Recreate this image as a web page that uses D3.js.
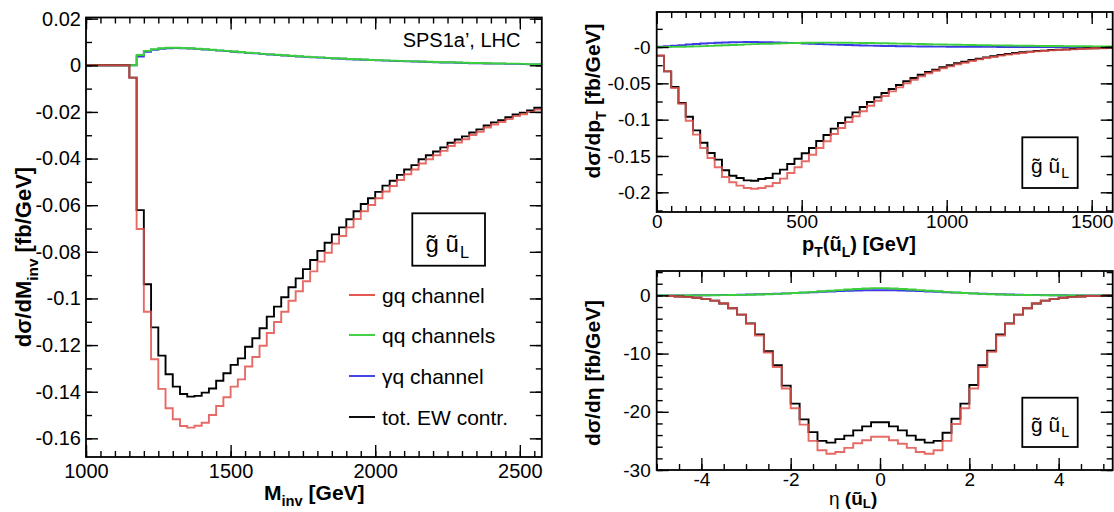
<!DOCTYPE html>
<html><head><meta charset="utf-8">
<script src="https://cdn.jsdelivr.net/npm/d3@7"></script>
<style>
body{margin:0;background:#fff}
svg{display:block}
text{font-family:"Liberation Sans",Arial,Helvetica,sans-serif}
</style>
</head><body>
<svg id="c" width="1114" height="512"></svg>
<script>
// ---------------- DATA ----------------
// Left panel: d sigma / d M_inv, bins of 25 GeV starting at 1000 GeV
const mInvBinStart = 1000, mInvBinWidth = 25;
const mInvTot = [0,0,0,0,0,0,
 -0.0053,-0.0621,-0.0939,-0.1124,-0.1245,-0.1325,-0.1378,-0.1410,-0.1421,-0.1418,
 -0.1404,-0.1386,-0.1353,-0.1321,-0.1285,-0.1257,-0.1207,-0.1171,-0.1128,-0.1078,
 -0.1035,-0.0995,-0.0952,-0.0914,-0.0874,-0.0835,-0.0796,-0.0761,-0.0725,-0.0695,
 -0.0660,-0.0626,-0.0595,-0.0570,-0.0543,-0.0516,-0.0495,-0.0470,-0.0447,-0.0428,
 -0.0403,-0.0386,-0.0370,-0.0352,-0.0332,-0.0318,-0.0305,-0.0288,-0.0275,-0.0258,
 -0.0245,-0.0235,-0.0223,-0.0211,-0.0203,-0.0194,-0.0182];
const mInvGq = [0,0,0,0,0,0,
 -0.0053,-0.0702,-0.1057,-0.1261,-0.1388,-0.1471,-0.1518,-0.1547,-0.1554,-0.1546,
 -0.1533,-0.1500,-0.1461,-0.1424,-0.1378,-0.1347,-0.1292,-0.1251,-0.1203,-0.1148,
 -0.1101,-0.1057,-0.1010,-0.0969,-0.0926,-0.0884,-0.0842,-0.0804,-0.0765,-0.0732,
 -0.0695,-0.0659,-0.0626,-0.0599,-0.0570,-0.0541,-0.0518,-0.0492,-0.0467,-0.0447,
 -0.0421,-0.0403,-0.0386,-0.0367,-0.0346,-0.0331,-0.0317,-0.0299,-0.0285,-0.0267,
 -0.0254,-0.0243,-0.0231,-0.0218,-0.0210,-0.0200,-0.0190];
const mInvQq = [0,0,0,0,0,0,0,
 0.0044,0.0062,0.0069,0.0073,0.0075,0.0075,0.0074,0.0073,0.0071,0.0069,
 0.0067,0.0064,0.0062,0.0059,0.0057,0.0054,0.0052,0.0049,0.0047,0.0045,
 0.0043,0.0041,0.0039,0.0037,0.0035,0.0034,0.0032,0.0030,0.0029,0.0027,
 0.0026,0.0025,0.0023,0.0022,0.0021,0.0020,0.0019,0.0018,0.0017,0.0016,
 0.0015,0.0014,0.0013,0.0013,0.0012,0.0011,0.0010,0.0010,0.0009,0.0008,
 0.0008,0.0007,0.0007,0.0006,0.0005,0.0005];
const mInvGamma = [0,0,0,0,0,0,0,
 0.0038,0.0058,0.0067,0.0071,0.0073,0.0074,0.0073,0.0072,0.0070,0.0068,
 0.0066,0.0063,0.0061,0.0058,0.0056,0.0053,0.0051,0.0048,0.0046,0.0044,
 0.0042,0.0040,0.0038,0.0036,0.0034,0.0033,0.0031,0.0029,0.0028,0.0026,
 0.0025,0.0024,0.0022,0.0021,0.0020,0.0019,0.0018,0.0017,0.0016,0.0015,
 0.0014,0.0013,0.0012,0.0012,0.0011,0.0010,0.0009,0.0009,0.0008,0.0007,
 0.0007,0.0006,0.0006,0.0005,0.0004,0.0004];
const mInvXTicks = [1000,1500,2000,2500];
const mInvYTicks = [0.02,0,-0.02,-0.04,-0.06,-0.08,-0.1,-0.12,-0.14,-0.16];

// Top right: d sigma / d pT, bins of 25 GeV from 0
const ptBinStart = 0, ptBinWidth = 25;
const ptTot = [-0.0119,-0.0335,-0.0550,-0.0771,-0.0959,-0.1147,-0.1317,-0.1459,-0.1550,-0.1697,
 -0.1771,-0.1803,-0.1835,-0.1840,-0.1817,-0.1803,-0.1743,-0.1688,-0.1610,-0.1537,
 -0.1463,-0.1390,-0.1294,-0.1211,-0.1124,-0.1046,-0.0968,-0.0899,-0.0826,-0.0757,
 -0.0692,-0.0633,-0.0578,-0.0523,-0.0472,-0.0427,-0.0381,-0.0344,-0.0312,-0.0279,
 -0.0252,-0.0224,-0.0202,-0.0179,-0.0161,-0.0142,-0.0128,-0.0110,-0.0096,-0.0083,
 -0.0073,-0.0064,-0.0055,-0.0050,-0.0041,-0.0037,-0.0032,-0.0028,-0.0023,-0.0018,
 -0.0016,-0.0014,-0.0011];
const ptGq = [-0.0119,-0.0335,-0.0564,-0.0780,-0.1014,-0.1206,-0.1390,-0.1528,-0.1656,-0.1789,
 -0.1862,-0.1908,-0.1940,-0.1950,-0.1940,-0.1917,-0.1871,-0.1812,-0.1734,-0.1656,
 -0.1573,-0.1482,-0.1390,-0.1298,-0.1197,-0.1115,-0.1032,-0.0954,-0.0885,-0.0808,
 -0.0739,-0.0674,-0.0610,-0.0555,-0.0500,-0.0450,-0.0404,-0.0362,-0.0326,-0.0293,
 -0.0266,-0.0238,-0.0216,-0.0193,-0.0170,-0.0151,-0.0138,-0.0119,-0.0105,-0.0092,
 -0.0083,-0.0069,-0.0060,-0.0055,-0.0046,-0.0041,-0.0037,-0.0032,-0.0028,-0.0023,
 -0.0018,-0.0016,-0.0014];
const ptQq = [0.0000,0.0001,0.0002,0.0004,0.0006,0.0009,0.0012,0.0016,0.0020,0.0024,
 0.0028,0.0032,0.0036,0.0040,0.0043,0.0046,0.0049,0.0052,0.0054,0.0056,
 0.0058,0.0059,0.0060,0.0060,0.0060,0.0059,0.0058,0.0057,0.0056,0.0055,
 0.0053,0.0051,0.0049,0.0047,0.0045,0.0043,0.0041,0.0039,0.0037,0.0035,
 0.0033,0.0031,0.0030,0.0028,0.0026,0.0025,0.0023,0.0022,0.0021,0.0019,
 0.0018,0.0017,0.0016,0.0015,0.0014,0.0013,0.0012,0.0011,0.0010,0.0010,
 0.0009,0.0008,0.0008];
const ptGamma = [0.0003,0.0010,0.0018,0.0026,0.0034,0.0041,0.0048,0.0054,0.0059,0.0063,
 0.0066,0.0068,0.0069,0.0069,0.0068,0.0066,0.0063,0.0060,0.0057,0.0053,
 0.0049,0.0045,0.0041,0.0037,0.0033,0.0030,0.0027,0.0024,0.0021,0.0019,
 0.0017,0.0015,0.0013,0.0011,0.0010,0.0009,0.0008,0.0007,0.0006,0.0005,
 0.0004,0.0004,0.0003,0.0003,0.0002,0.0002,0.0002,0.0001,0.0001,0.0001,
 0.0001,0.0001,0.0001,0.0001,0.0001,0.0001,0.0001,0.0001,0.0001,0.0001,
 0,0,0];
const ptXTicks = [0,500,1000,1500];
const ptYTicks = [0,-0.05,-0.1,-0.15,-0.2];

// Bottom right: d sigma / d eta, bins of 0.2
const etaBinWidth = 0.2;
const etaTotStart = -4.8;
const etaTot = [-0.1,-0.2,-0.3,-0.4,-0.6,-0.9,-1.4,-2.2,-3.3,-4.8,
 -6.7,-9.6,-12.0,-15.5,-18.6,-21.3,-23.5,-25.0,-25.3,-24.7,
 -24.1,-23.2,-22.5,-21.8,-21.8,-22.5,-23.2,-24.1,-24.8,-25.3,
 -25.0,-23.6,-21.2,-18.6,-15.4,-12.0,-9.5,-6.7,-4.8,-3.3,
 -2.2,-1.4,-0.9,-0.6,-0.4,-0.3,-0.2,-0.1,-0.1,0];
const etaGq = [-0.1,-0.2,-0.3,-0.4,-0.6,-0.9,-1.4,-2.2,-3.3,-4.9,
 -6.9,-9.8,-12.3,-16.0,-19.4,-22.2,-25.0,-26.6,-27.2,-26.9,
 -26.2,-25.4,-24.9,-24.3,-24.3,-24.9,-25.5,-26.2,-26.9,-27.2,
 -26.6,-25.0,-22.1,-19.4,-16.0,-12.3,-9.7,-6.9,-4.9,-3.3,
 -2.2,-1.4,-0.9,-0.6,-0.4,-0.3,-0.2,-0.1,-0.1,0];
const etaSmallStart = -5.0;
const etaQq = [0,0,0,0.01,0.01,0.02,0.03,0.04,0.06,0.08,
 0.11,0.15,0.20,0.26,0.33,0.41,0.50,0.60,0.70,0.80,
 0.90,1.00,1.10,1.18,1.25,1.25,1.18,1.10,1.00,0.90,
 0.80,0.70,0.60,0.50,0.41,0.33,0.26,0.20,0.15,0.11,
 0.08,0.06,0.04,0.03,0.02,0.01,0.01,0,0,0,0];
const etaGamma = [0,0,0.01,0.01,0.02,0.03,0.05,0.07,0.09,0.12,
 0.15,0.19,0.24,0.29,0.35,0.41,0.48,0.55,0.62,0.68,
 0.74,0.79,0.83,0.87,0.89,0.89,0.87,0.83,0.79,0.74,
 0.68,0.62,0.55,0.48,0.41,0.35,0.29,0.24,0.19,0.15,
 0.12,0.09,0.07,0.05,0.03,0.02,0.01,0.01,0,0,0];
const etaXTicks = [-4,-2,0,2,4];
const etaYTicks = [0,-10,-20,-30];

const legendLabels = ["gq channel","qq channels","\u03B3q channel","tot. EW contr."];

// ---------------- STYLE ----------------
const C = {gq:"#e2504a", qq:"#3ccf3c", gamma:"#3b3be4", tot:"#000000"};
const FONT = '"Liberation Sans",Arial,Helvetica,sans-serif';
const svg = d3.select("#c");

function fmtNum(d){ return String(d); }

function histPath(x, y, start, width, values){
  const pts = values.map((v,i)=>[start + i*width, v]);
  pts.push([start + values.length*width, values[values.length-1]]);
  return d3.line().x(d=>x(d[0])).y(d=>y(d[1])).curve(d3.curveStepAfter)(pts);
}

function styleAxis(g, fs){
  g.select(".domain").remove();
  g.selectAll(".tick line").attr("stroke","#000").attr("stroke-width",1.4);
  g.attr("font-family",FONT).attr("font-size",fs);
  g.selectAll("text").attr("fill","#000");
}

function panel(p){
  const x = d3.scaleLinear().domain(p.xDomain).range([p.left,p.right]);
  const y = d3.scaleLinear().domain(p.yDomain).range([p.bottom,p.top]);
  const clipId = "clip-"+p.id;
  svg.append("clipPath").attr("id",clipId).append("rect")
    .attr("x",p.left).attr("y",p.top).attr("width",p.right-p.left).attr("height",p.bottom-p.top);
  const plot = svg.append("g").attr("clip-path",`url(#${clipId})`);
  p.series.forEach(s=>{
    plot.append("path").attr("d",histPath(x,y,s.start,s.width,s.values))
      .attr("fill","none").attr("stroke",s.color).attr("stroke-width",s.w||1.9)
      .attr("stroke-opacity",s.op==null?1:s.op).attr("stroke-linejoin","miter");
  });
  const fs = p.fs;
  const gb = svg.append("g").attr("transform",`translate(0,${p.bottom})`)
    .call(d3.axisBottom(x).tickValues(p.xTicks).tickSize(-12).tickPadding(p.xPad).tickFormat(p.xFmt||fmtNum));
  styleAxis(gb,fs);
  const gl = svg.append("g").attr("transform",`translate(${p.left},0)`)
    .call(d3.axisLeft(y).tickValues(p.yTicks).tickSize(-12).tickPadding(p.yPad).tickFormat(p.yFmt||fmtNum));
  styleAxis(gl,fs);
  const gt = svg.append("g").attr("transform",`translate(0,${p.top})`)
    .call(d3.axisTop(x).tickValues(p.xTicks).tickSize(-12).tickFormat(""));
  styleAxis(gt,fs);
  const gr = svg.append("g").attr("transform",`translate(${p.right},0)`)
    .call(d3.axisRight(y).tickValues(p.yTicks).tickSize(-12).tickFormat(""));
  styleAxis(gr,fs);
  const xm = d3.range(p.xMinor[0], p.xMinor[1]+1e-9, p.xMinor[2]).filter(v=>v>=p.xDomain[0]-1e-9&&v<=p.xDomain[1]);
  const ym = d3.range(p.yMinor[0], p.yMinor[1]-1e-9, -p.yMinor[2]).filter(v=>v<=p.yDomain[1]+1e-9&&v>=p.yDomain[0]);
  [[d3.axisBottom(x).tickValues(xm),`translate(0,${p.bottom})`],
   [d3.axisTop(x).tickValues(xm),`translate(0,${p.top})`],
   [d3.axisLeft(y).tickValues(ym),`translate(${p.left},0)`],
   [d3.axisRight(y).tickValues(ym),`translate(${p.right},0)`]].forEach(([ax,tr])=>{
     const g = svg.append("g").attr("transform",tr).call(ax.tickSize(-6).tickFormat(""));
     styleAxis(g,fs);
  });
  svg.append("rect").attr("x",p.left).attr("y",p.top).attr("width",p.right-p.left).attr("height",p.bottom-p.top)
    .attr("fill","none").attr("stroke","#000").attr("stroke-width",1.8);
  return {x,y};
}

function rich(parent, parts, fs, attrs){
  const t = parent.append("text").attr("font-size",fs).attr("fill","#000");
  Object.entries(attrs.a||{}).forEach(([k,v])=>t.attr(k,v));
  const shift = (attrs.shift||0.3)*fs;
  let down = false;
  parts.forEach(pt=>{
    const ts = t.append("tspan").text(pt.t).attr("font-weight",(pt.bold==null?attrs.bold:pt.bold)?"bold":"normal");
    if(pt.sub){ ts.attr("font-size",fs*0.7).attr("dy",shift); down = true; }
    else if(down){ ts.attr("dy",-shift); down = false; }
  });
  return t;
}

// box with "g~ u~_L" label (single text element, combining tilde on g)
function tildeBox(bx,by,bw,bh,fs,gx,base){
  svg.append("rect").attr("x",bx).attr("y",by).attr("width",bw).attr("height",bh)
    .attr("fill","#fff").attr("stroke","#000").attr("stroke-width",1.8);
  const t = svg.append("text").attr("x",gx).attr("y",base).attr("font-size",fs).attr("fill","#000");
  t.append("tspan").text("g\u0303 \u0169");
  t.append("tspan").attr("font-size",fs*0.68).attr("dy",0.28*fs).attr("dx",1).text("L");
}

// ---------------- LEFT PANEL ----------------
panel({id:"minv", left:86, right:541.8, top:17.5, bottom:457,
  xDomain:[1000,2576], yDomain:[-0.168,0.0205], fs:20, xPad:7, yPad:5,
  xTicks:mInvXTicks, yTicks:mInvYTicks, xMinor:[1000,2550,50], yMinor:[0.02,-0.17,0.01],
  series:[
    {start:mInvBinStart,width:mInvBinWidth,values:mInvGamma,color:C.gamma},
    {start:mInvBinStart,width:mInvBinWidth,values:mInvQq,color:C.qq},
    {start:mInvBinStart,width:mInvBinWidth,values:mInvTot,color:C.tot},
    {start:mInvBinStart,width:mInvBinWidth,values:mInvGq,color:C.gq,op:0.85}
  ]});

svg.append("text").attr("x",520.5).attr("y",47).attr("font-size",20).attr("text-anchor","end").text("SPS1a\u2019, LHC");
tildeBox(412.3,213.3,72.7,52.4,24,425.5,251.5);

const legColors = [C.gq,C.qq,C.gamma,C.tot];
const legY = [295,335,376,417];
legendLabels.forEach((lab,i)=>{
  svg.append("line").attr("x1",349).attr("x2",375).attr("y1",legY[i]).attr("y2",legY[i])
    .attr("stroke",legColors[i]).attr("stroke-width",1.9);
  svg.append("text").attr("x",382).attr("y",legY[i]+7.5).attr("font-size",21).text(lab);
});

rich(svg,[{t:"M"},{t:"inv",sub:true},{t:" [GeV]"}],21,{bold:true,a:{x:264,y:500}});
rich(svg,[{t:"d\u03C3/dM"},{t:"inv",sub:true},{t:" [fb/GeV]"}],22,{bold:true,
  a:{"text-anchor":"middle",transform:"translate(31,257) rotate(-90)"}});

// ---------------- TOP RIGHT ----------------
panel({id:"pt", left:656.7, right:1112.7, top:12, bottom:212,
  xDomain:[0,1572.4], yDomain:[-0.2271,0.0482], fs:19, xPad:2, yPad:6,
  xTicks:ptXTicks, yTicks:ptYTicks, xFmt:d=>String(d), yFmt:d=>d===0?"-0":String(d),
  xMinor:[0,1550,50], yMinor:[0.025,-0.23,0.025],
  series:[
    {start:ptBinStart,width:ptBinWidth,values:ptGamma,color:C.gamma},
    {start:ptBinStart,width:ptBinWidth,values:ptQq,color:C.qq},
    {start:ptBinStart,width:ptBinWidth,values:ptTot,color:C.tot},
    {start:ptBinStart,width:ptBinWidth,values:ptGq,color:C.gq,op:0.85}
  ]});
tildeBox(1022.3,137.3,55.4,50.7,21,1031,172.5);
rich(svg,[{t:"p"},{t:"T",sub:true},{t:"(\u0169"},{t:"L",sub:true},{t:") [GeV]"}],20,{bold:true,a:{x:802,y:251}});
rich(svg,[{t:"d\u03C3/dp"},{t:"T",sub:true},{t:" [fb/GeV]"}],21,{bold:true,
  a:{"text-anchor":"middle",transform:"translate(600,101) rotate(-90)"}});

// ---------------- BOTTOM RIGHT ----------------
panel({id:"eta", left:656.7, right:1112.7, top:271, bottom:470,
  xDomain:[-5,5.21], yDomain:[-30,4.19], fs:19, xPad:2, yPad:6,
  xTicks:etaXTicks, yTicks:etaYTicks,
  xMinor:[-5,5,0.5], yMinor:[4,-30,2],
  series:[
    {start:etaSmallStart,width:etaBinWidth,values:etaGamma,color:C.gamma},
    {start:etaSmallStart,width:etaBinWidth,values:etaQq,color:C.qq},
    {start:etaTotStart,width:etaBinWidth,values:etaTot,color:C.tot},
    {start:etaTotStart,width:etaBinWidth,values:etaGq,color:C.gq,op:0.85}
  ]});
tildeBox(1022.3,397.7,55.4,49.3,21,1031,431.5);
rich(svg,[{t:"\u03B7 ",bold:false},{t:"(\u0169"},{t:"L",sub:true},{t:")"}],19,{bold:true,shift:0.18,a:{x:829,y:505}});
rich(svg,[{t:"d\u03C3/d\u03B7 [fb/GeV]"}],21,{bold:true,
  a:{"text-anchor":"middle",transform:"translate(600,373) rotate(-90)"}});
</script>
</body></html>
